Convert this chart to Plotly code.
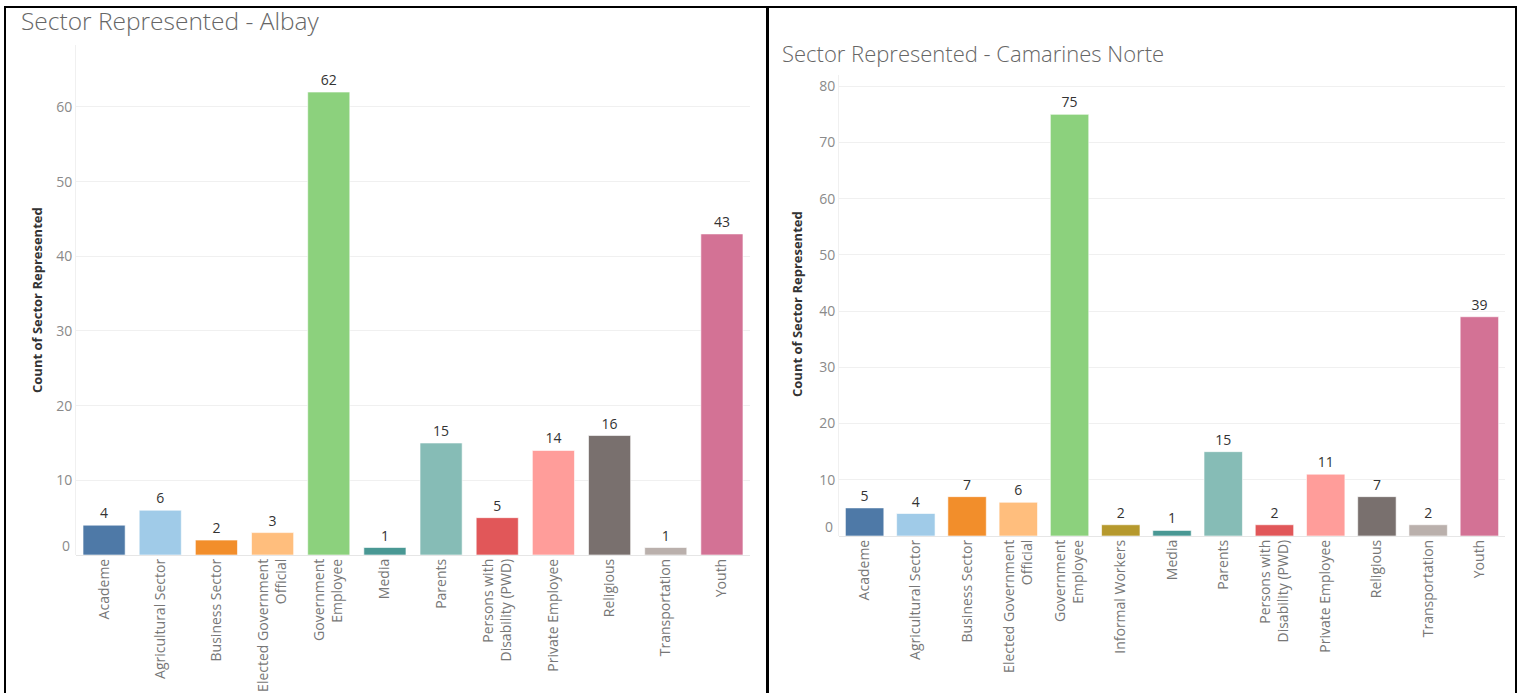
import plotly.graph_objects as go

# Albay
albay_sectors = [
    "Academe", "Agricultural Sector", "Business Sector",
    "Elected Government<br>Official", "Government<br>Employee", "Media",
    "Parents", "Persons with<br>Disability (PWD)", "Private Employee",
    "Religious", "Transportation", "Youth",
]
albay_counts = [4, 6, 2, 3, 62, 1, 15, 5, 14, 16, 1, 43]
albay_colors = [
    "#4E79A7", "#A0CBE8", "#F28E2B", "#FFBE7D", "#8CD17D", "#499894",
    "#86BCB6", "#E15759", "#FF9D9A", "#79706E", "#BAB0AC", "#D37295",
]

# Camarines Norte
cn_sectors = [
    "Academe", "Agricultural Sector", "Business Sector",
    "Elected Government<br>Official", "Government<br>Employee",
    "Informal Workers", "Media", "Parents",
    "Persons with<br>Disability (PWD)", "Private Employee", "Religious",
    "Transportation", "Youth",
]
cn_counts = [5, 4, 7, 6, 75, 2, 1, 15, 2, 11, 7, 2, 39]
cn_colors = [
    "#4E79A7", "#A0CBE8", "#F28E2B", "#FFBE7D", "#8CD17D", "#B6992D",
    "#499894", "#86BCB6", "#E15759", "#FF9D9A", "#79706E", "#BAB0AC",
    "#D37295",
]

albay_ticks = [0, 10, 20, 30, 40, 50, 60]
cn_ticks = [0, 10, 20, 30, 40, 50, 60, 70, 80]

W, H = 1523, 693
FONT = "Open Sans"


def px_x(v):
    return v / W


def px_y(v):
    return 1 - v / H


fig = go.Figure()

fig.add_trace(go.Bar(
    x=albay_sectors, y=albay_counts, marker_color=albay_colors,
    marker_line=dict(color="rgba(255,255,255,0.6)", width=1),
    text=albay_counts, textposition="outside", cliponaxis=False,
    textfont=dict(family=FONT, size=14, color="#333333"),
    xaxis="x", yaxis="y", width=0.75, showlegend=False,
))
fig.add_trace(go.Bar(
    x=cn_sectors, y=cn_counts, marker_color=cn_colors,
    marker_line=dict(color="rgba(255,255,255,0.6)", width=1),
    text=cn_counts, textposition="outside", cliponaxis=False,
    textfont=dict(family=FONT, size=14, color="#333333"),
    xaxis="x2", yaxis="y2", width=0.75, showlegend=False,
))

xcommon = dict(
    tickangle=-90, showgrid=False, zeroline=False, showline=False,
    tickfont=dict(family=FONT, size=14, color="#777777"),
    ticks="", fixedrange=True,
)
ycommon = dict(
    showgrid=True, gridcolor="#F0F0F0", gridwidth=1,
    zeroline=True, zerolinecolor="#E6E6E6", zerolinewidth=1,
    showline=True, linecolor="#F0F0F0", linewidth=1,
    tickfont=dict(family=FONT, size=14, color="#8A8A8A"),
    ticks="", fixedrange=True,
)

fig.update_layout(
    width=W, height=H,
    margin=dict(l=0, r=0, t=0, b=0),
    paper_bgcolor="white", plot_bgcolor="white",
    bargap=0.25,
    xaxis=dict(domain=[px_x(76), px_x(750)], anchor="y", **xcommon),
    yaxis=dict(
        domain=[px_y(555), px_y(45)], anchor="x", range=[0, 68.3],
        tickvals=albay_ticks[1:], ticktext=[str(t) for t in albay_ticks[1:]],
        **ycommon,
    ),
    xaxis2=dict(domain=[px_x(839), px_x(1505)], anchor="y2", **xcommon),
    yaxis2=dict(
        domain=[px_y(536), px_y(75)], anchor="x2", range=[0, 82],
        tickvals=cn_ticks[1:], ticktext=[str(t) for t in cn_ticks[1:]],
        **ycommon,
    ),
)

annotations = []
# zero tick labels, lifted slightly above the baseline
for xref, yref in (("x domain", "y"), ("x2 domain", "y2")):
    annotations.append(dict(
        xref=xref, yref=yref, x=0, y=0, xanchor="right", yanchor="middle",
        xshift=-4, yshift=10, text="0", showarrow=False,
        font=dict(family=FONT, size=14, color="#8A8A8A"),
    ))

# panel titles
annotations.append(dict(
    xref="paper", yref="paper", x=px_x(19), y=px_y(21),
    xanchor="left", yanchor="middle", text="Sector Represented - Albay",
    showarrow=False,
    font=dict(family=FONT, size=24.5, color="#666666", weight=300),
))
annotations.append(dict(
    xref="paper", yref="paper", x=px_x(780), y=px_y(53),
    xanchor="left", yanchor="middle",
    text="Sector Represented - Camarines Norte",
    showarrow=False,
    font=dict(family=FONT, size=22, color="#666666", weight=300),
))

# y-axis titles
for xpos, ypos in ((37, 300), (797, 304)):
    annotations.append(dict(
        xref="paper", yref="paper", x=px_x(xpos), y=px_y(ypos),
        xanchor="center", yanchor="middle", textangle=-90,
        text="<b>Count of Sector Represented</b>", showarrow=False,
        font=dict(family=FONT, size=13, color="#333333"),
    ))

fig.update_layout(annotations=annotations)

# dashboard frame
shapes = []
line = dict(color="black", width=2)
shapes.append(dict(type="line", xref="paper", yref="paper",
                   x0=px_x(4), x1=px_x(1517), y0=px_y(7), y1=px_y(7), line=line))
shapes.append(dict(type="line", xref="paper", yref="paper",
                   x0=px_x(5), x1=px_x(5), y0=px_y(7), y1=0, line=line))
shapes.append(dict(type="line", xref="paper", yref="paper",
                   x0=px_x(767.5), x1=px_x(767.5), y0=px_y(7), y1=0,
                   line=dict(color="black", width=3)))
shapes.append(dict(type="line", xref="paper", yref="paper",
                   x0=px_x(1516), x1=px_x(1516), y0=px_y(7), y1=0, line=line))
fig.update_layout(shapes=shapes)

fig.write_html("out.html")
